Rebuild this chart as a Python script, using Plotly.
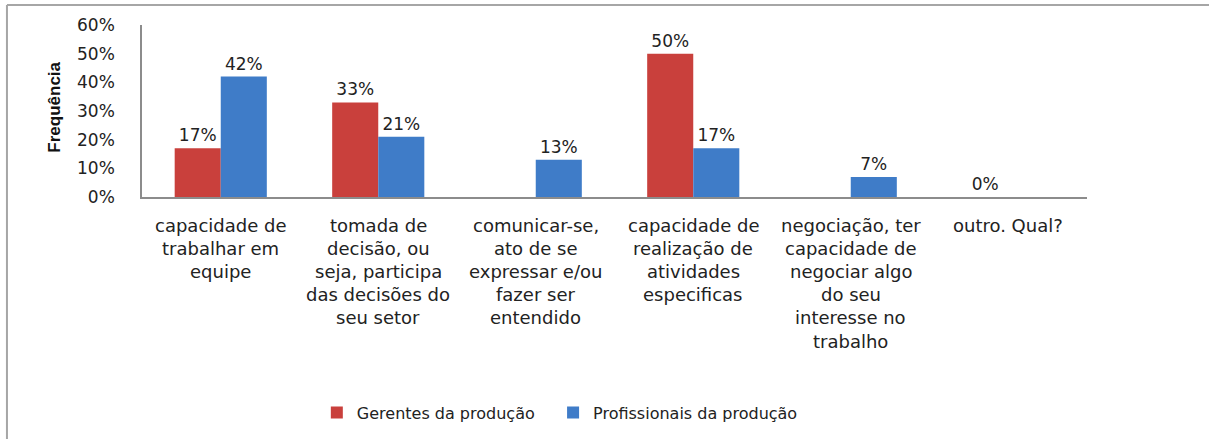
import plotly.graph_objects as go

# Data
categorias = [
    "capacidade de<br>trabalhar em<br>equipe",
    "tomada de<br>decisão, ou<br>seja, participa<br>das decisões do<br>seu setor",
    "comunicar-se,<br>ato de se<br>expressar e/ou<br>fazer ser<br>entendido",
    "capacidade de<br>realização de<br>atividades<br>especificas",
    "negociação, ter<br>capacidade de<br>negociar algo<br>do seu<br>interesse no<br>trabalho",
    "outro. Qual?",
]
gerentes = [0.17, 0.33, None, 0.50, None, 0.0]
profissionais = [0.42, 0.21, 0.13, 0.17, 0.07, None]
y_ticks = [0, 0.1, 0.2, 0.3, 0.4, 0.5, 0.6]

FONT = "DejaVu Sans"
TXT = "#222222"
x_idx = list(range(len(categorias)))

fig = go.Figure()
fig.add_trace(go.Bar(
    x=x_idx, y=gerentes, name="Gerentes da produção", legend="legend",
    marker=dict(color="#C9403C", line=dict(color="#9E2E2B", width=0)),
    text=[f"{v:.0%}" if v is not None else "" for v in gerentes],
    textposition="outside", textfont=dict(family=FONT, size=17, color=TXT),
    cliponaxis=False,
))
fig.add_trace(go.Bar(
    x=x_idx, y=profissionais, name="Profissionais da produção", legend="legend2",
    marker=dict(color="#3F7CC8", line=dict(color="#2D5E9E", width=0)),
    text=[f"{v:.0%}" if v is not None else "" for v in profissionais],
    textposition="outside", textfont=dict(family=FONT, size=17, color=TXT),
    cliponaxis=False,
))

# category labels, one annotation per line so the line spacing matches
for i, cat in enumerate(categorias):
    for j, line in enumerate(cat.split("<br>")):
        fig.add_annotation(
            x=i, y=0, xref="x", yref="y", text=line, showarrow=False,
            yanchor="middle", yshift=-28 - 23.2 * j,
            font=dict(family=FONT, size=18, color=TXT),
        )

# y axis title
fig.add_annotation(
    x=-0.093, y=0.52, xref="paper", yref="paper", text="<b>Frequência</b>",
    textangle=-90, showarrow=False, xanchor="center", yanchor="middle",
    font=dict(family="Liberation Sans Narrow, Liberation Sans", size=17, color="#111"),
)

# outer chart frame (left and top edges)
fig.add_shape(type="line", xref="paper", yref="paper", x0=-0.1429, x1=1.2, y0=1.1156, y1=1.1156,
              line=dict(color="#A6A6A6", width=2))
fig.add_shape(type="line", xref="paper", yref="paper", x0=-0.1429, x1=-0.1429, y0=1.1156, y1=-2,
              line=dict(color="#A6A6A6", width=2))

legend_style = dict(orientation="h", xanchor="left", y=-1.24, yanchor="middle",
                    font=dict(family=FONT, size=16, color=TXT), itemwidth=30)

fig.update_layout(
    width=1209, height=439,
    margin=dict(l=142, r=122, t=25, b=241),
    paper_bgcolor="white", plot_bgcolor="white",
    barmode="group", bargap=0.415, bargroupgap=0,
    showlegend=True,
    legend=dict(x=0.185, **legend_style),
    legend2=dict(x=0.435, **legend_style),
    font=dict(family=FONT),
)
fig.update_xaxes(
    range=[-0.5, 5.5], tickvals=x_idx, showticklabels=False,
    showline=True, linecolor="#8C8C8C", linewidth=1.5, showgrid=False, zeroline=False,
)
fig.update_yaxes(
    range=[0, 0.6], tickvals=y_ticks, tickformat=".0%",
    showline=True, linecolor="#8C8C8C", linewidth=1.5, showgrid=False, zeroline=False,
    ticks="", ticklabelstandoff=22,
    tickfont=dict(family=FONT, size=17, color=TXT),
)

# drop the default page margin so the figure sits at the window origin
fig.write_html("out.html", config={"displayModeBar": False},
               post_script="document.body.style.margin='0';")
